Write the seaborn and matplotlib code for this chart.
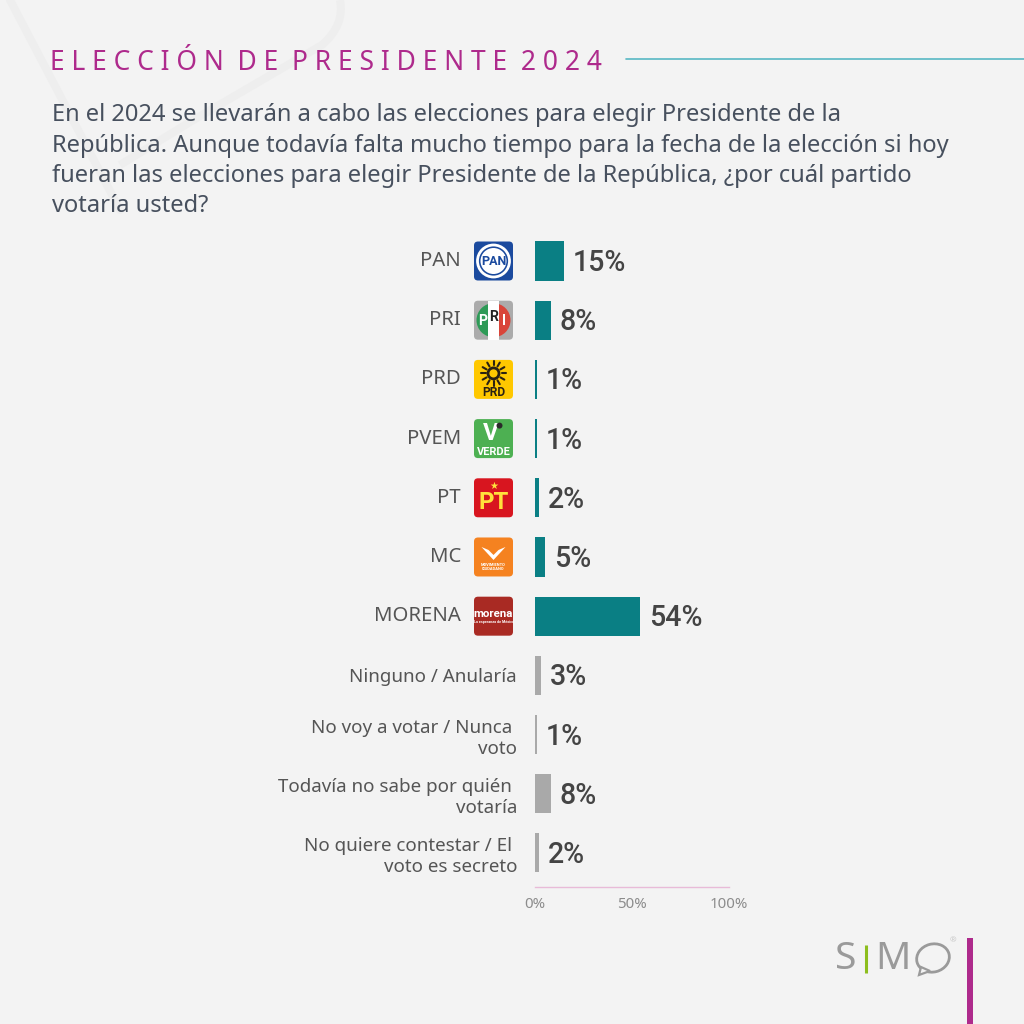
import numpy as np
import pandas as pd
import matplotlib
matplotlib.use("Agg")
import matplotlib.pyplot as plt
import seaborn as sns
from matplotlib.patches import FancyBboxPatch, Circle, Rectangle, Ellipse, Polygon, Wedge, PathPatch
from matplotlib.path import Path

categories = ["PAN", "PRI", "PRD", "PVEM", "PT", "MC", "MORENA", "Ninguno / Anularía",
              "No voy a votar / Nunca \nvoto", "Todavía no sabe por quién \nvotaría",
              "No quiere contestar / El \nvoto es secreto"]
values = [15, 8, 1, 1, 2, 5, 54, 3, 1, 8, 2]
groups = ["p"] * 7 + ["o"] * 4
group_colors = {"p": "#0A7F84", "o": "#A9A9A9"}
xticks = [0, 50, 100]
xticklabels = ["0%", "50%", "100%"]
title = "E L E C C I Ó N  D E  P R E S I D E N T E  2 0 2 4"
question = ["En el 2024 se llevarán a cabo las elecciones para elegir Presidente de la",
            "República. Aunque todavía falta mucho tiempo para la fecha de la elección si hoy",
            "fueran las elecciones para elegir Presidente de la República, ¿por cuál partido",
            "votaría usted?"]
FONT = "Noto Sans"
BOLD = "Roboto"
BG = "#F3F3F3"

sns.set_theme(style="white")
plt.rcParams["font.family"] = [FONT, "DejaVu Sans"]
px = 0.72  # points per pixel at dpi 100

fig = plt.figure(figsize=(10.24, 10.24), dpi=100, facecolor=BG)
bg = fig.add_axes([0, 0, 1, 1], zorder=0)
bg.set_xlim(0, 1024); bg.set_ylim(1024, 0); bg.axis("off")

ax = fig.add_axes([535/1024, 1-887/1024, 194/1024, (887-232)/1024], zorder=1)
ax.patch.set_alpha(0)
df = pd.DataFrame({"cat": categories, "val": values, "grp": groups})
sns.barplot(data=df, y="cat", x="val", hue="grp", palette=group_colors, dodge=False,
            width=0.66, legend=False, ax=ax, saturation=1, order=categories, linewidth=0)
ax.set_xlim(0, 100)
ax.set_ylim(10.575, -0.49)
ax.set_xlabel(""); ax.set_ylabel("")
sns.despine(ax=ax, left=True)
ax.spines["bottom"].set_color("#E8BBD8"); ax.spines["bottom"].set_linewidth(1)
ax.set_xticks(xticks); ax.set_xticklabels(xticklabels, fontsize=15*px, color="#8C8C8C")
ax.tick_params(axis="x", length=0, pad=7)
ax.tick_params(axis="y", length=0)
for t, lab, g in zip(ax.yaxis.get_major_ticks(), ax.get_yticklabels(), groups):
    t.set_pad((74 if g == "p" else 18) * px)
    lab.set_fontsize((20.3 if g == "p" else 18.8)*px); lab.set_color("#555555")
    lab.set_linespacing(1.22)
    lab.set_ha("right")
    if g == "p":
        lab.set_va("center")
for i, v in enumerate(values):
    ax.annotate(f"{v}%", (v, i), xytext=(9*px, -2*px), textcoords="offset points",
                va="center", ha="left", fontsize=28.5*px, color="#444444", fontweight="medium",
                family=[BOLD, "DejaVu Sans"])

fig.canvas.draw()
def row_y(i):
    return 1024 - ax.transData.transform((0, i))[1]

bg.plot([10, 120], [0, 210], color="#EEEEEE", lw=8*px, solid_capstyle="round", zorder=0)
verts = [(340, 0), (345, 25), (322, 45), (190, 122), (120, 165)]
codes = [Path.MOVETO, Path.CURVE3, Path.CURVE3, Path.LINETO, Path.LINETO]
bg.add_patch(PathPatch(Path(verts, codes), fill=False, ec="#EEEEEE", lw=8*px, zorder=0))

bg.text(50, 63, title, color="#AE2A8C", fontsize=26.4*px, va="center", ha="left")
bg.plot([626, 1024], [59, 59], color="#58B7C4", lw=1.2)
for y, line in zip([115, 146, 176, 206], question):
    bg.text(52, y, line, color="#47505E", fontsize=23.7*px, va="center", ha="left")

def box(y, color, x=474, s=39):
    bg.add_patch(FancyBboxPatch((x+3, y-s/2+3), s-6, s-6, boxstyle="round,pad=3,rounding_size=4",
                                fc=color, ec="none", zorder=2))
def label(x, y, s, size, color="white"):
    bg.text(x, y, s, color=color, fontsize=size*px, ha="center", va="center",
            fontweight="bold", family=BOLD, zorder=5)
cx = 493.5
# PAN
y = row_y(0); box(y, "#1B4A9E")
bg.add_patch(Circle((cx, y), 16, fc="none", ec="white", lw=2, zorder=3))
bg.add_patch(Circle((cx, y), 13, fc="white", ec="none", zorder=3))
label(cx, y, "PAN", 12.5, color="#1B4A9E")
# PRI
y = row_y(1); box(y, "#ABABAB")
bg.add_patch(Wedge((cx, y), 17, 90, 270, fc="#2E9A57", ec="none", zorder=3))
bg.add_patch(Wedge((cx, y), 17, -90, 90, fc="#D9453A", ec="none", zorder=3))
bg.add_patch(Rectangle((cx-5.5, y-19.5), 11, 39, fc="white", ec="none", zorder=4))
label(cx-10.5, y+1, "P", 14); label(cx, y-3, "R", 14, color="#222222"); label(cx+10.5, y+1, "I", 14)
# PRD
y = row_y(2); box(y, "#FFC800")
bg.add_patch(Circle((cx, y-6), 5.5, fc="none", ec="#2A2113", lw=2, zorder=3))
for a in np.deg2rad(np.arange(0, 360, 30)):
    bg.plot([cx+8*np.cos(a), cx+12.5*np.cos(a)], [y-6+8*np.sin(a), y-6+12.5*np.sin(a)],
            color="#2A2113", lw=1.5, zorder=3)
label(cx, y+13, "PRD", 12, color="#2A2113")
# PVEM
y = row_y(3); box(y, "#4DB052")
label(cx-3, y-5, "V", 24)
bg.add_patch(Circle((cx+6, y-13), 3, fc="#2A2A2A", ec="none", zorder=5))
label(cx, y+13, "VERDE", 11)
# PT
y = row_y(4); box(y, "#D8151F")
label(cx, y+5, "PT", 24, color="#FFE13C")
bg.text(cx, y-12, "★", color="#FFE13C", fontsize=10*px, ha="center", va="center", zorder=5, family="DejaVu Sans")
# MC
y = row_y(5); box(y, "#F58220")
bg.add_patch(Polygon([(cx-12, y-10), (cx, y+3), (cx+12, y-10), (cx+5, y-7), (cx, y-2), (cx-5, y-7)],
                     fc="white", ec="none", zorder=4))
label(cx, y+8, "MOVIMIENTO", 4); label(cx, y+12, "CIUDADANO", 4)
# morena
y = row_y(6); box(y, "#A92A23")
label(cx, y-2, "morena", 11.5)
label(cx, y+6, "La esperanza de México", 3.6)

# footer brand
bg.text(846, 959, "S", color="#9A9A9A", fontsize=39*px, ha="center", va="center")
bg.plot([866, 866], [945, 973], color="#8DBE1E", lw=2.2, solid_capstyle="butt")
bg.text(893, 959, "M", color="#9A9A9A", fontsize=39*px, ha="center", va="center")
bg.add_patch(Ellipse((933, 958), 33, 28, angle=-15, fc="none", ec="#9A9A9A", lw=2))
bg.add_patch(Polygon([(921, 967), (919, 975), (930, 971)], fc=BG, ec="#9A9A9A", lw=1.6, zorder=3))
bg.text(953, 941, "®", color="#C8C8C8", fontsize=8*px, ha="center", va="center")
bg.add_patch(Rectangle((967, 938), 6, 86, fc="#AE2A8C", ec="none"))

fig.savefig("out.png", dpi=100, facecolor=BG)
